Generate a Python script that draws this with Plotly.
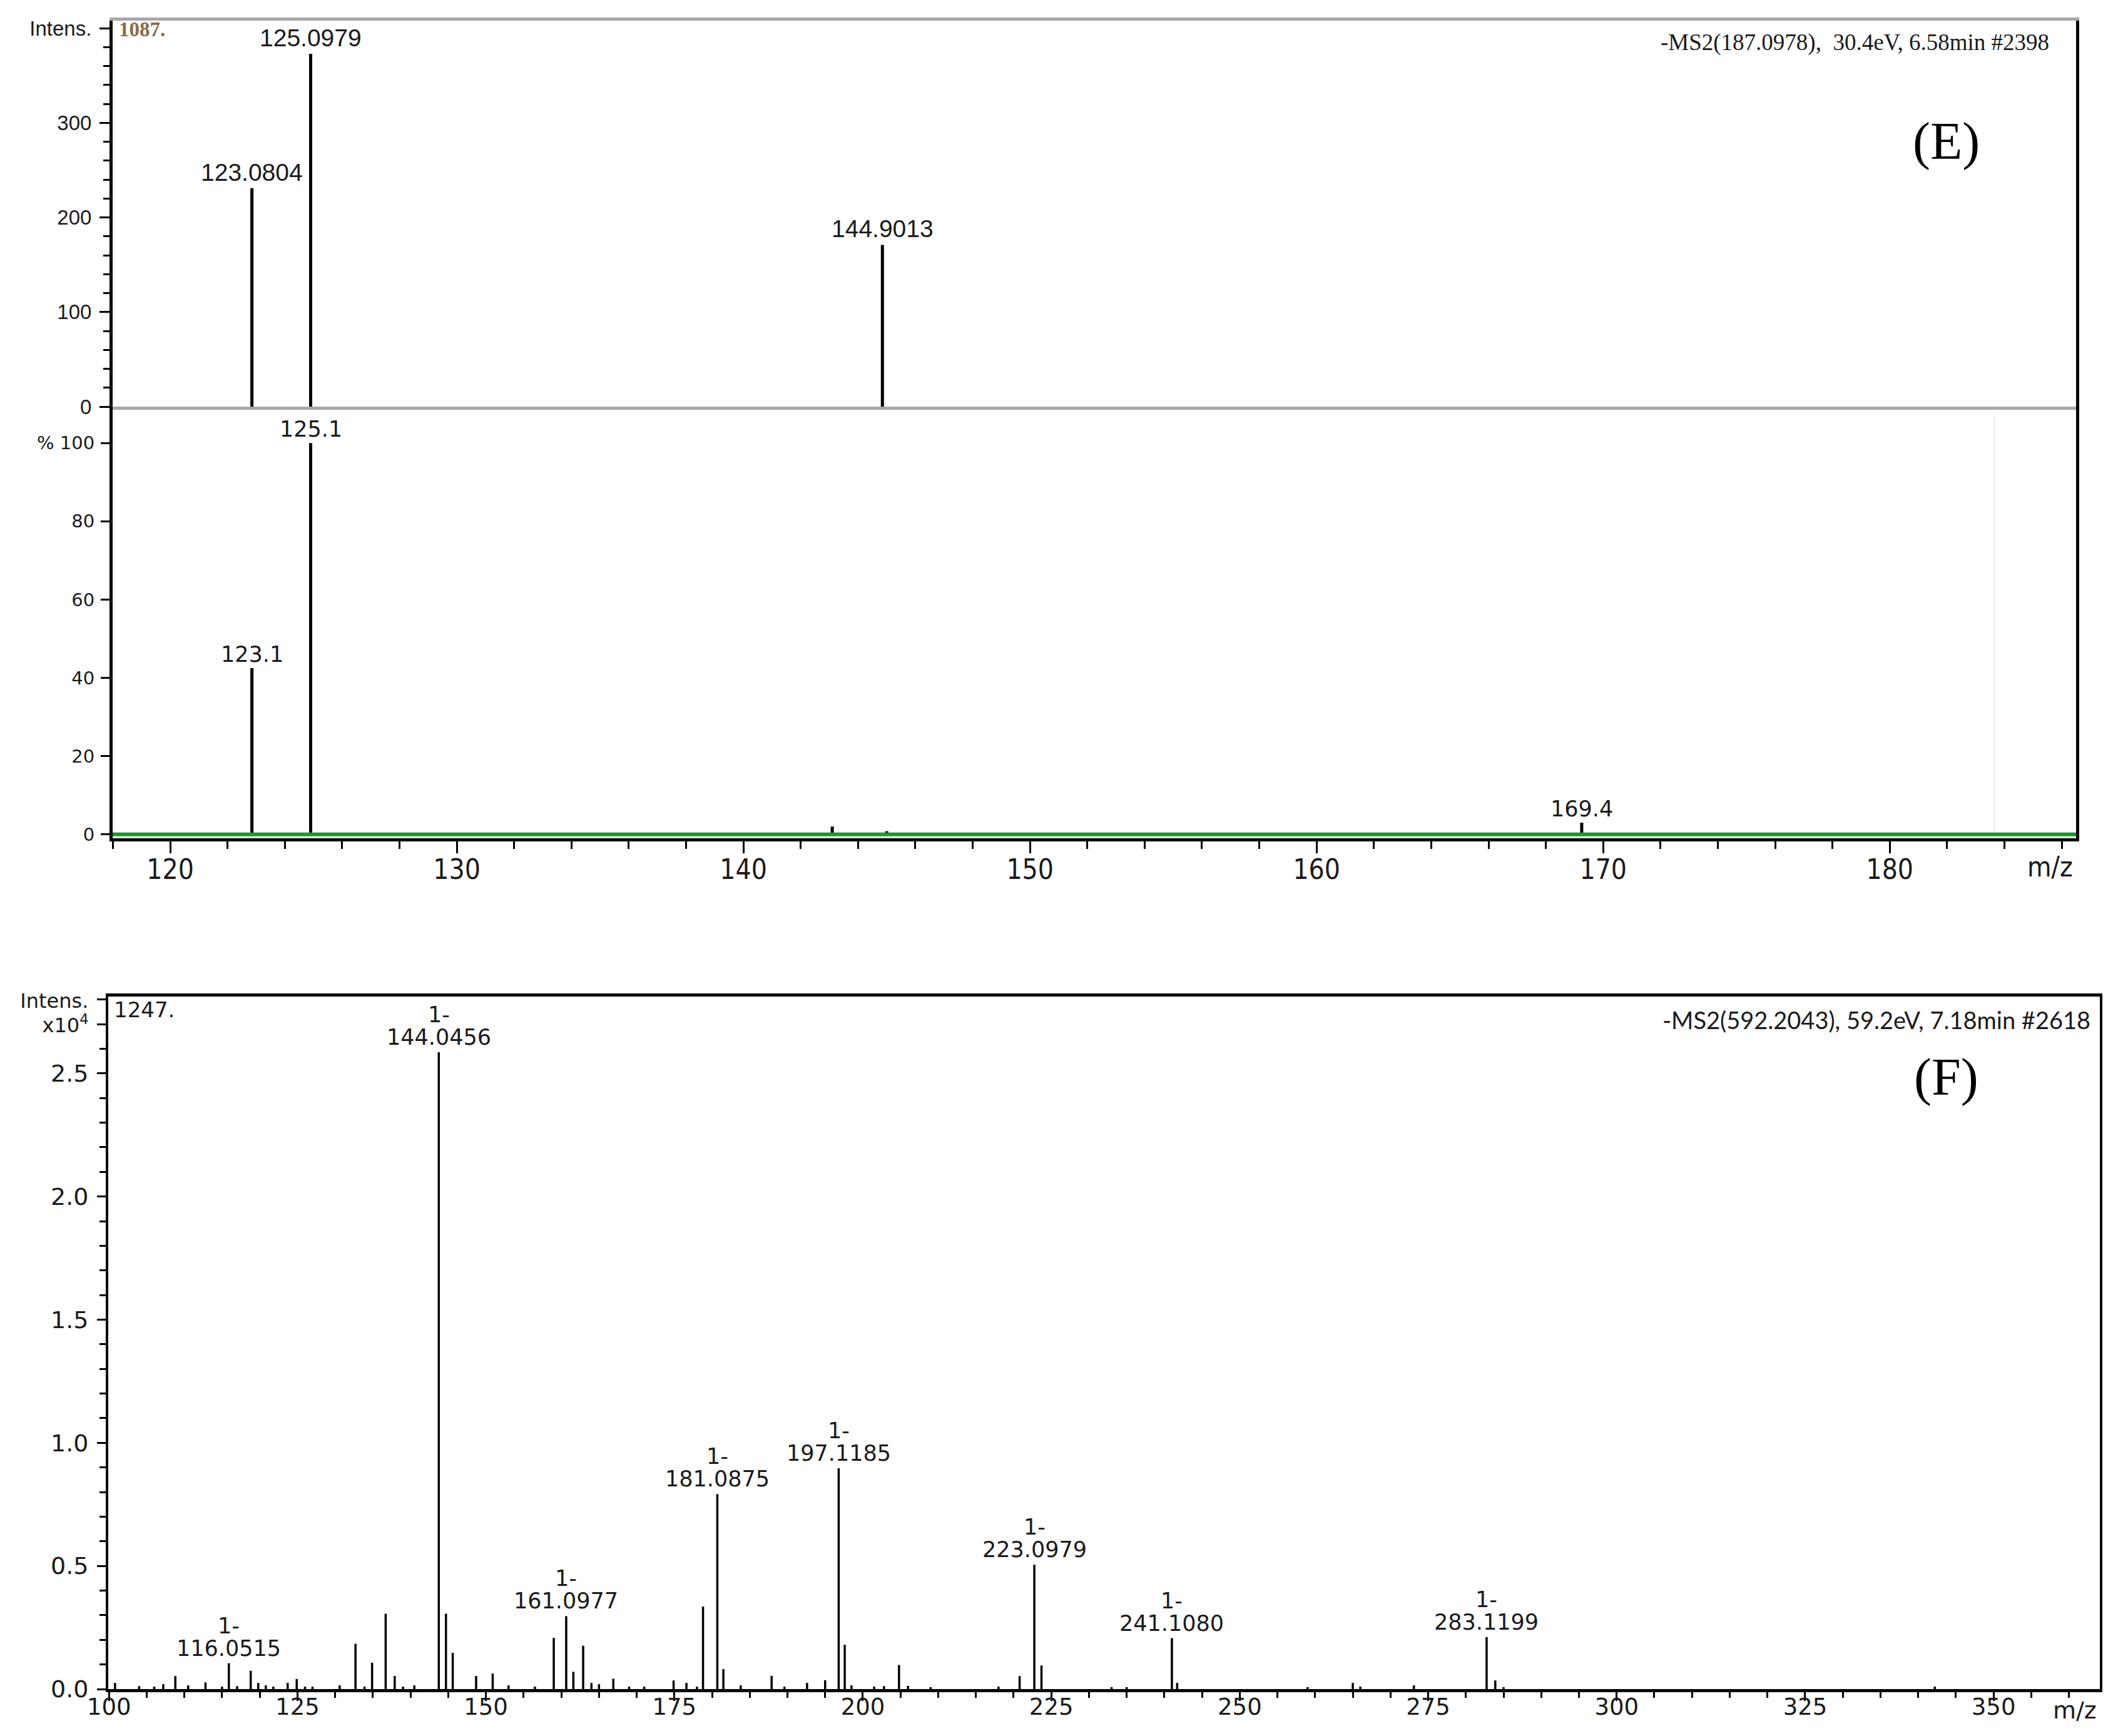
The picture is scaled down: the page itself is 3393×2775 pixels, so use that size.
import plotly.graph_objects as go

# ---------------- data ----------------
# Panel E, upper trace (absolute intensity); positions as drawn, labels as printed
e_top_mz = [122.85, 124.9, 144.85]
e_top_int = [231, 373, 171]
e_top_labels = ["123.0804", "125.0979", "144.9013"]

# Panel E, lower trace (relative intensity, %)
e_low_mz = [122.85, 124.9, 143.1, 145.0, 169.25]
e_low_pct = [42.5, 100, 2.0, 0.8, 3.0]
e_low_labels = ["123.1", "125.1", "", "", "169.4"]

# Panel F, labelled peaks (intensity x10^4)
f_lab_mz = [115.9, 143.75, 160.65, 180.7, 196.8, 222.75, 241.0, 282.75]
f_lab_int = [0.105, 2.586, 0.296, 0.792, 0.897, 0.505, 0.207, 0.211]
f_lab_charge = ["1-", "1-", "1-", "1-", "1-", "1-", "1-", "1-"]
f_lab_text = ["116.0515", "144.0456", "161.0977", "181.0875", "197.1185", "223.0979", "241.1080", "283.1199"]

# Panel F, unlabelled peaks (intensity x10^4)
f_mz = [100.8, 104.0, 106.0, 107.2, 108.8, 110.5, 112.8, 115.0, 117.0, 118.8,
        119.8, 120.8, 121.8, 123.7, 124.9, 126.0, 127.0, 130.6, 132.7, 133.9,
        134.9, 136.7, 137.9, 139.0, 140.5, 144.7, 145.6, 148.7, 150.9, 153.0,
        156.5, 159.0, 161.6, 162.9, 164.0, 165.0, 166.9, 169.0, 171.0, 174.9,
        176.6, 178.0, 178.8, 181.5, 183.8, 187.9, 189.6, 192.6, 195.0, 197.6,
        198.5, 201.5, 202.8, 204.8, 206.0, 209.0, 218.0, 220.8, 223.7, 233.0,
        235.0, 241.7, 259.0, 265.0, 266.0, 273.1, 283.9, 285.0, 342.2]
f_int = [0.025, 0.012, 0.010, 0.020, 0.053, 0.015, 0.027, 0.010, 0.012, 0.074,
         0.025, 0.015, 0.010, 0.025, 0.041, 0.010, 0.010, 0.015, 0.184, 0.010,
         0.107, 0.306, 0.053, 0.010, 0.015, 0.306, 0.147, 0.053, 0.063, 0.015,
         0.010, 0.208, 0.070, 0.176, 0.025, 0.020, 0.042, 0.010, 0.010, 0.035,
         0.025, 0.010, 0.335, 0.081, 0.015, 0.054, 0.010, 0.025, 0.036, 0.180,
         0.015, 0.010, 0.012, 0.098, 0.013, 0.008, 0.010, 0.053, 0.096, 0.008,
         0.008, 0.025, 0.008, 0.025, 0.010, 0.015, 0.035, 0.008, 0.010]

# axis tick labels
e_top_tickvals = [0, 100, 200, 300, 400]
e_top_ticktext = ["0", "100", "200", "300", "Intens."]
e_low_tickvals = [0, 20, 40, 60, 80, 100]
e_low_ticktext = ["0", "20", "40", "60", "80", "% 100"]
e_x_tickvals = [120, 130, 140, 150, 160, 170, 180]
f_x_tickvals = [100, 125, 150, 175, 200, 225, 250, 275, 300, 325, 350]
f_y_tickvals = [0, 0.5, 1.0, 1.5, 2.0, 2.5, 2.7, 2.8]
f_y_ticktext = ["0.0", "0.5", "1.0", "1.5", "2.0", "2.5",
                "<span style='font-size:32px'>x10<sup>4</sup></span>",
                "<span style='font-size:32px'>Intens.</span>"]

e_title = "-MS2(187.0978),  30.4eV, 6.58min #2398"
f_title = "-MS2(592.2043), 59.2eV, 7.18min #2618"


# ---------------- helpers ----------------
W, H = 3393, 2775


def fx(p):
    return p / W


def fy(p):
    return 1 - p / H


def stems(xs, ys):
    X, Y = [], []
    for x, y in zip(xs, ys):
        X += [x, x, None]
        Y += [0, y, None]
    return X, Y


SANS = "Liberation Sans, Arial, sans-serif"
NARROW = "Liberation Sans Narrow, DejaVu Sans Condensed, Liberation Sans, sans-serif"
WIDE = "DejaVu Sans, Verdana, sans-serif"
SERIF = "Liberation Serif, Times New Roman, serif"
INK = "#1a1a1a"

fig = go.Figure()

x, y = stems(e_top_mz, e_top_int)
fig.add_trace(go.Scatter(x=x, y=y, mode="lines", line=dict(color="black", width=5),
                         xaxis="x", yaxis="y", hoverinfo="skip", showlegend=False))
x, y = stems(e_low_mz, e_low_pct)
fig.add_trace(go.Scatter(x=x, y=y, mode="lines", line=dict(color="black", width=5),
                         xaxis="x2", yaxis="y2", hoverinfo="skip", showlegend=False))
x, y = stems(f_mz, f_int)
fig.add_trace(go.Scatter(x=x, y=y, mode="lines", line=dict(color="black", width=3.5),
                         xaxis="x3", yaxis="y3", hoverinfo="skip", showlegend=False))
x, y = stems(f_lab_mz, f_lab_int)
fig.add_trace(go.Scatter(x=x, y=y, mode="lines", line=dict(color="black", width=3.5),
                         xaxis="x3", yaxis="y3", hoverinfo="skip", showlegend=False))

annotations = []
for m, v, t in zip(e_top_mz, e_top_int, e_top_labels):
    annotations.append(dict(x=m, y=v, xref="x", yref="y", text=t, showarrow=False,
                            yanchor="bottom", yshift=2, font=dict(family=SANS, size=39, color=INK)))
for m, v, t in zip(e_low_mz, e_low_pct, e_low_labels):
    if t:
        annotations.append(dict(x=m, y=v, xref="x2", yref="y2", text=t, showarrow=False,
                                yanchor="bottom", yshift=0, font=dict(family=WIDE, size=35, color=INK)))
for m, v, c, t in zip(f_lab_mz, f_lab_int, f_lab_charge, f_lab_text):
    annotations.append(dict(x=m, y=v, xref="x3", yref="y3", text=t, showarrow=False,
                            yanchor="bottom", yshift=2, font=dict(family=WIDE, size=35, color=INK)))
    annotations.append(dict(x=m, y=v, xref="x3", yref="y3", text=c, showarrow=False,
                            yanchor="bottom", yshift=38, font=dict(family=WIDE, size=35, color=INK)))

# titles, panel letters, small header values, m/z labels
annotations += [
    dict(x=fx(3277), y=fy(68), xref="paper", yref="paper", text=e_title, showarrow=False,
         xanchor="right", yanchor="middle", font=dict(family=SERIF, size=37, color=INK)),
    dict(x=fx(3110), y=fy(226), xref="paper", yref="paper", text="(E)", showarrow=False,
         xanchor="center", yanchor="middle", font=dict(family=SERIF, size=84, color="black")),
    dict(x=fx(188), y=fy(47), xref="paper", yref="paper", text="<b>1087.</b>", showarrow=False,
         xanchor="left", yanchor="middle", font=dict(family=SERIF, size=33, color="#8b6a48")),
    dict(x=185.6, y=fy(1385), xref="x2", yref="paper", text="m/z", showarrow=False,
         xanchor="center", yanchor="middle", font=dict(family=NARROW, size=44, color=INK)),
    dict(x=fx(3343), y=fy(1630), xref="paper", yref="paper", text=f_title, showarrow=False,
         xanchor="right", yanchor="middle", font=dict(family="Lato, " + SANS, size=38, color=INK)),
    dict(x=fx(3110), y=fy(1722), xref="paper", yref="paper", text="(F)", showarrow=False,
         xanchor="center", yanchor="middle", font=dict(family=SERIF, size=84, color="black")),
    dict(x=fx(180), y=fy(1614), xref="paper", yref="paper", text="1247.", showarrow=False,
         xanchor="left", yanchor="middle", font=dict(family=WIDE, size=34, color=INK)),
    dict(x=360.8, y=fy(2734), xref="x3", yref="paper", text="m/z", showarrow=False,
         xanchor="center", yanchor="middle", font=dict(family=WIDE, size=38, color=INK)),
]

shapes = [
    # faint vertical artefact line in the lower E trace
    dict(type="line", xref="x2", yref="y2 domain", x0=183.65, x1=183.65, y0=0, y1=0.98,
         line=dict(color="#ececec", width=2)),
    # green baseline of the lower E trace
    dict(type="line", xref="x2 domain", yref="y2", x0=0, x1=1, y0=0, y1=0,
         line=dict(color="#10a020", width=6)),
]

E_X = [fx(180), fx(3318)]
E_RANGE = [117.99, 186.5]

fig.update_layout(
    template="none",
    width=W, height=H,
    margin=dict(l=0, r=0, t=0, b=0, pad=0),
    paper_bgcolor="white", plot_bgcolor="white",
    showlegend=False,
    annotations=annotations,
    shapes=shapes,
    xaxis=dict(domain=E_X, range=E_RANGE, anchor="y", showline=True, mirror=True, automargin=False,
               linecolor="#a8a8a8", linewidth=5, showticklabels=False, ticks="",
               showgrid=False, zeroline=False),
    yaxis=dict(domain=[fy(650), fy(33)], range=[0, 408], anchor="x", showline=True, mirror=True,
               automargin=False,
               linecolor="black", linewidth=5, tickmode="array", tickvals=e_top_tickvals,
               ticktext=e_top_ticktext, ticks="outside", ticklen=16, tickwidth=3, tickcolor="black",
               minor=dict(dtick=20, tick0=0, ticks="outside", ticklen=10, tickwidth=3, tickcolor="black"),
               tickfont=dict(family=SANS, size=33, color=INK), showgrid=False, zeroline=False,
               ticklabelstandoff=6),
    xaxis2=dict(domain=E_X, range=E_RANGE, anchor="y2", showline=True, mirror=False, automargin=False,
                linecolor="black", linewidth=5, tickmode="array", tickvals=e_x_tickvals,
                ticks="outside", ticklen=19, tickwidth=3, tickcolor="black",
                minor=dict(dtick=2, tick0=120, ticks="outside", ticklen=12, tickwidth=3, tickcolor="black"),
                tickfont=dict(family=NARROW, size=44, color=INK), showgrid=False, zeroline=False,
                ticklabelstandoff=-12),
    yaxis2=dict(domain=[fy(1340), fy(650)], range=[-1.0, 109.3], anchor="x2", showline=True, mirror=True,
                automargin=False,
                linecolor="black", linewidth=5, tickmode="array", tickvals=e_low_tickvals,
                ticktext=e_low_ticktext, ticks="outside", ticklen=14, tickwidth=3, tickcolor="black",
                tickfont=dict(family=WIDE, size=29, color=INK), showgrid=False, zeroline=False,
                ticklabelstandoff=4),
    xaxis3=dict(domain=[fx(173), fx(3356)], range=[99.9, 364.1], anchor="y3", showline=True, mirror=True,
                automargin=False,
                linecolor="black", linewidth=5, tickmode="array", tickvals=f_x_tickvals,
                ticks="outside", ticklen=14, tickwidth=3, tickcolor="black",
                minor=dict(dtick=5, tick0=100, ticks="outside", ticklen=9, tickwidth=3, tickcolor="black"),
                tickfont=dict(family=WIDE, size=37, color=INK), showgrid=False, zeroline=False,
                ticklabelstandoff=-22),
    yaxis3=dict(domain=[fy(2700), fy(1593)], range=[0, 2.812], anchor="x3", showline=True, mirror=True,
                automargin=False,
                linecolor="black", linewidth=4, tickmode="array", tickvals=f_y_tickvals,
                ticktext=f_y_ticktext, ticks="outside", ticklen=14, tickwidth=3, tickcolor="black",
                minor=dict(dtick=0.1, tick0=0, ticks="outside", ticklen=10, tickwidth=3, tickcolor="black"),
                tickfont=dict(family=WIDE, size=38, color=INK), showgrid=False, zeroline=False,
                ticklabelstandoff=6),
)

fig.write_html("out.html",
               config={"displayModeBar": False},
               post_script="document.body.style.margin='0';document.body.style.overflow='hidden';")
